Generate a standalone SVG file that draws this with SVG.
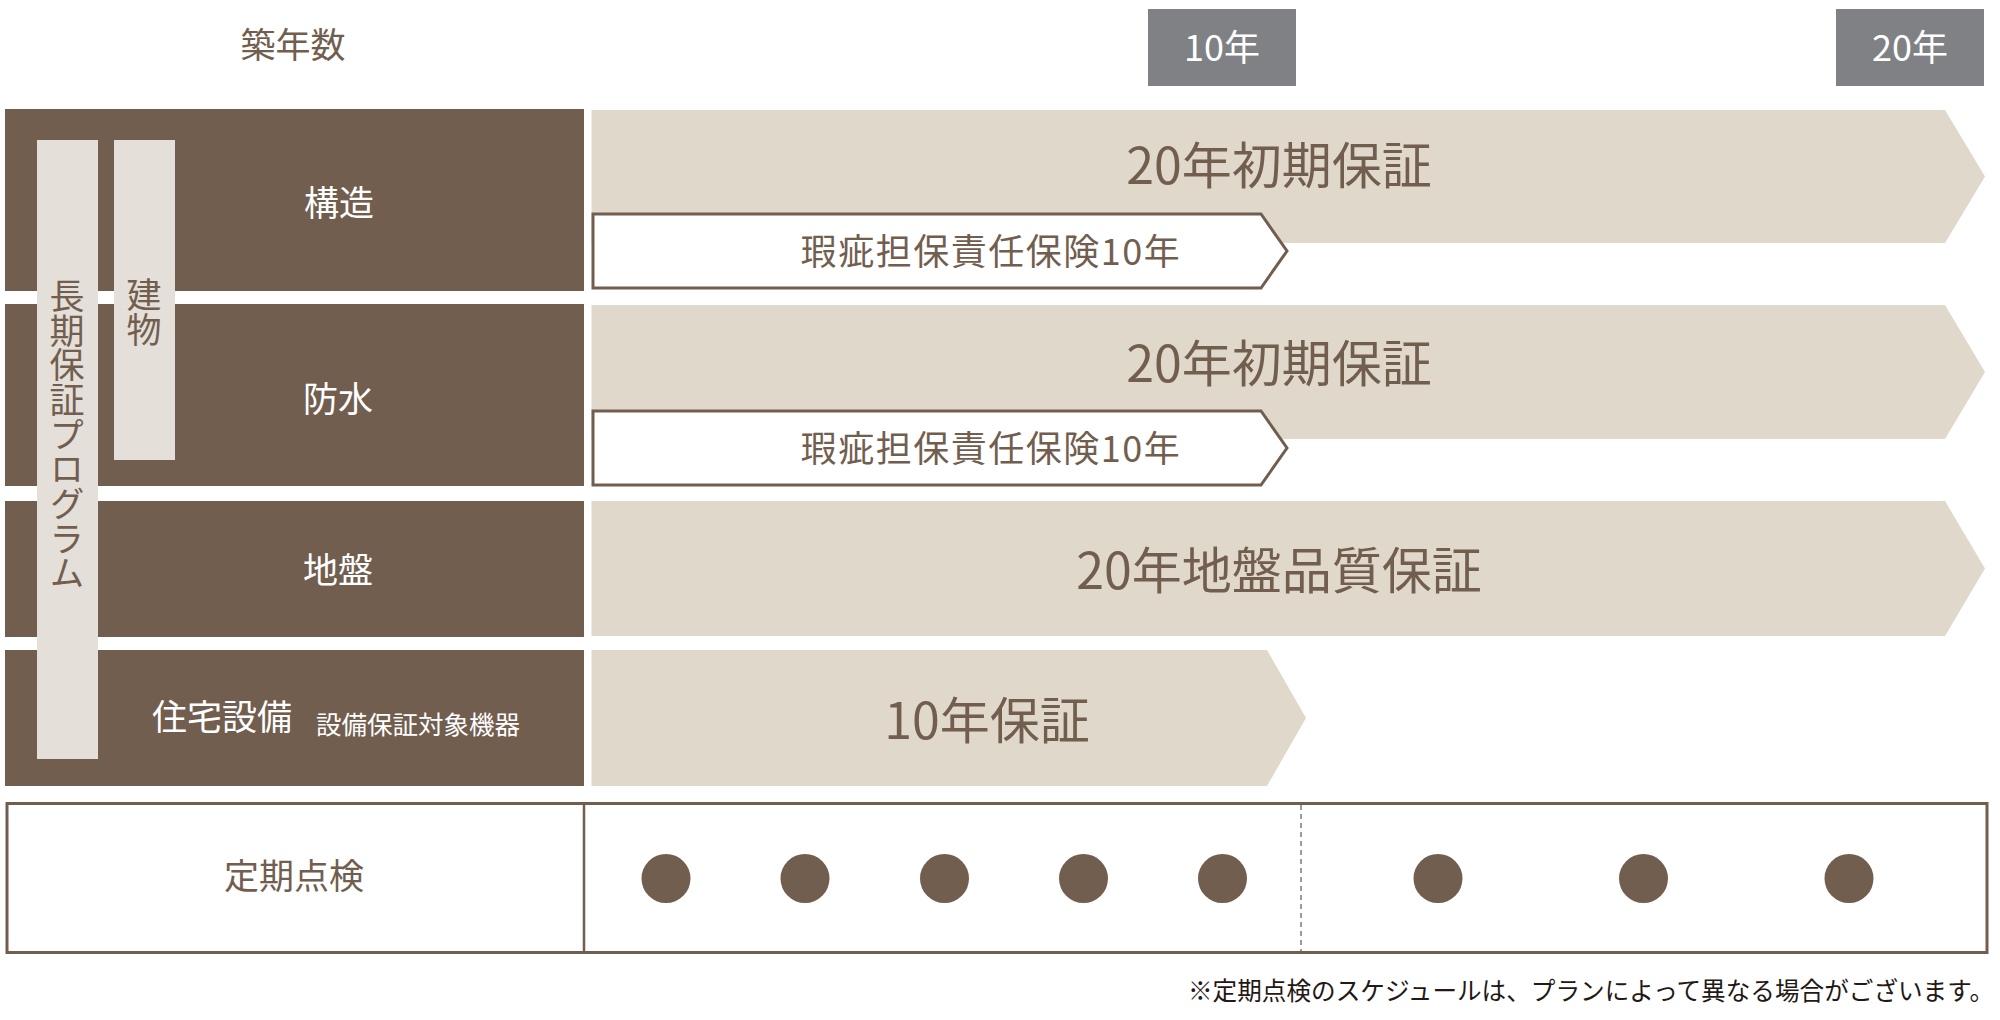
<svg xmlns="http://www.w3.org/2000/svg" width="2000" height="1020" viewBox="0 0 2000 1020">
<style>
  text { font-family: "Noto Sans CJK JP", "Noto Sans", sans-serif; }
  .row { fill: #725e4f; }
  .strip { fill: #e4dfd8; }
  .band { fill: #e0d8cb; }
  .ins { fill: #ffffff; stroke: #725e4f; stroke-width: 3; }
  .yr { fill: #808184; }
  .wl { fill: #ffffff; font-size: 35px; text-anchor: middle; dominant-baseline: central; }
  .bl { fill: #725e4f; font-size: 35px; text-anchor: middle; dominant-baseline: central; }
  .big { fill: #725e4f; font-size: 50px; text-anchor: middle; dominant-baseline: central; }
  .mid { fill: #725e4f; font-size: 36px; letter-spacing: 1.5px; text-anchor: middle; dominant-baseline: central; }
  .vt { fill: #725e4f; font-size: 35px; letter-spacing: -0.3px; writing-mode: vertical-rl; }
  .dot { fill: #725e4f; }
</style>

<g id="header">
  <text class="bl" x="293" y="42">築年数</text>
  <g id="year10">
    <rect class="yr" x="1148" y="9" width="148" height="77"/>
    <text class="wl" x="1222" y="45" style="font-size:36px">10年</text>
  </g>
  <g id="year20">
    <rect class="yr" x="1836" y="9" width="148" height="77"/>
    <text class="wl" x="1910" y="45" style="font-size:36px">20年</text>
  </g>
</g>

<g id="categories">
  <g id="row-kozo">
    <rect class="row" x="5" y="109" width="579" height="182"/>
    <text class="wl" x="339" y="200">構造</text>
  </g>
  <g id="row-bosui">
    <rect class="row" x="5" y="304" width="579" height="182"/>
    <text class="wl" x="338" y="396">防水</text>
  </g>
  <g id="row-jiban">
    <rect class="row" x="5" y="501" width="579" height="136"/>
    <text class="wl" x="338" y="567">地盤</text>
  </g>
  <g id="row-setsubi">
    <rect class="row" x="5" y="650" width="579" height="136"/>
    <text class="wl" x="152" y="714" style="text-anchor:start">住宅設備</text>
    <text x="316" y="722" style="fill:#ffffff;font-size:25.5px;dominant-baseline:central">設備保証対象機器</text>
  </g>
  <g id="strip-program">
    <rect class="strip" x="37" y="140" width="61" height="619"/>
    <text class="vt" x="67" y="278">長期保証プログラム</text>
  </g>
  <g id="strip-building">
    <rect class="strip" x="114" y="140" width="61" height="320"/>
    <text class="vt" x="144" y="277">建物</text>
  </g>
</g>

<g id="bands">
  <g id="band-kozo">
    <path class="band" d="M591.5,110 H1945 L1985,176.5 L1945,243 H591.5 Z"/>
    <text class="big" x="1279" y="162">20年初期保証</text>
  </g>
  <g id="ins-kozo">
    <path class="ins" d="M593,214 H1261 L1287,251 L1261,288 H593 Z"/>
    <text class="mid" x="991" y="249">瑕疵担保責任保険10年</text>
  </g>
  <g id="band-bosui">
    <path class="band" d="M591.5,305 H1945 L1985,372 L1945,439 H591.5 Z"/>
    <text class="big" x="1279" y="360">20年初期保証</text>
  </g>
  <g id="ins-bosui">
    <path class="ins" d="M593,411 H1261 L1287,448 L1261,485 H593 Z"/>
    <text class="mid" x="991" y="446">瑕疵担保責任保険10年</text>
  </g>
  <g id="band-jiban">
    <path class="band" d="M591.5,501 H1945 L1985,568.5 L1945,636 H591.5 Z"/>
    <text class="big" x="1279" y="567">20年地盤品質保証</text>
  </g>
  <g id="band-setsubi">
    <path class="band" d="M591.5,650 H1267 L1306,718 L1267,786 H591.5 Z"/>
    <text class="big" x="987" y="717">10年保証</text>
  </g>
</g>

<g id="inspection">
  <rect x="7" y="803.5" width="1980" height="149" fill="#ffffff" stroke="#725e4f" stroke-width="3"/>
  <line x1="584" y1="803.5" x2="584" y2="952.5" stroke="#725e4f" stroke-width="2.5"/>
  <line x1="1301" y1="805" x2="1301" y2="951" stroke="#9a9b9e" stroke-width="2" stroke-dasharray="5 4"/>
  <text class="bl" x="294" y="873">定期点検</text>
  <circle class="dot" cx="666" cy="878.5" r="24.5"/>
  <circle class="dot" cx="805" cy="878.5" r="24.5"/>
  <circle class="dot" cx="944.5" cy="878.5" r="24.5"/>
  <circle class="dot" cx="1083.5" cy="878.5" r="24.5"/>
  <circle class="dot" cx="1222.5" cy="878.5" r="24.5"/>
  <circle class="dot" cx="1438" cy="878.5" r="24.5"/>
  <circle class="dot" cx="1643.5" cy="878.5" r="24.5"/>
  <circle class="dot" cx="1849" cy="878.5" r="24.5"/>
</g>

<text x="1188" y="989" style="fill:#231815;font-size:25px;dominant-baseline:central" textLength="806" lengthAdjust="spacingAndGlyphs">※定期点検のスケジュールは、プランによって異なる場合がございます。</text>
</svg>
